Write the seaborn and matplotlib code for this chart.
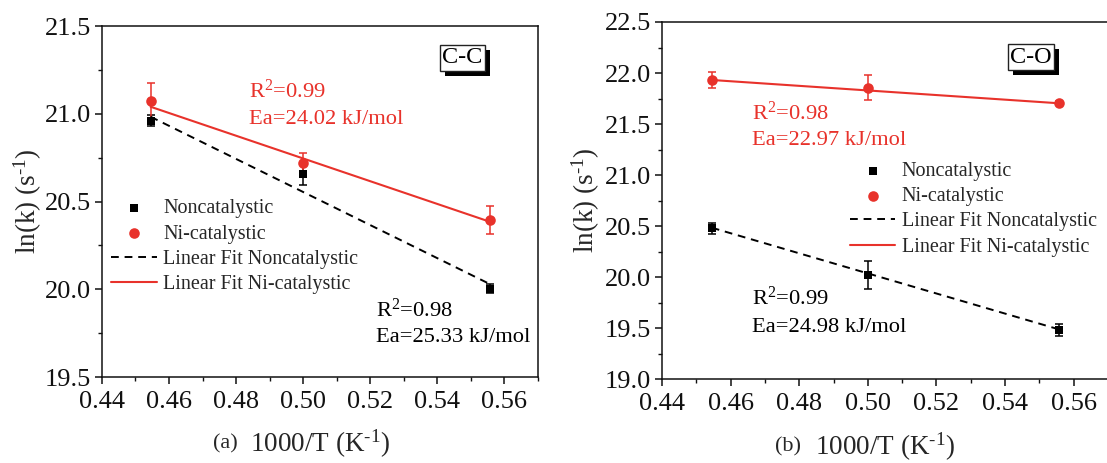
import numpy as np
import pandas as pd
import matplotlib
matplotlib.use("Agg")
import matplotlib.pyplot as plt
import seaborn as sns
from matplotlib.ticker import MultipleLocator, FormatStrFormatter
from matplotlib.patches import Rectangle

# ---------------- data ----------------
inv_T = [0.4545, 0.5000, 0.5556]          # 1000/T (K^-1)

# (a) C-C
cc_noncat = [20.960, 20.657, 20.003]
cc_noncat_err = [0.032, 0.065, 0.027]
cc_nicat = [21.074, 20.718, 20.395]
cc_nicat_err = [0.103, 0.061, 0.078]
fit_x = [0.4545, 0.5556]
cc_fit_noncat = [20.983, 20.030]
cc_fit_nicat = [21.040, 20.385]

# (b) C-O
co_noncat = [20.480, 20.022, 19.483]
co_noncat_err = [0.052, 0.134, 0.059]
co_nicat = [21.934, 21.857, 21.704]
co_nicat_err = [0.077, 0.119, 0.022]
co_fit_noncat = [20.485, 19.490]
co_fit_nicat = [21.932, 21.704]

series_labels = ["Noncatalystic", "Ni-catalystic",
                 "Linear Fit Noncatalystic", "Linear Fit Ni-catalystic"]

cc_notes = [("R$^{2}$=0.99", "Ea=24.02 kJ/mol"), ("R$^{2}$=0.98", "Ea=25.33 kJ/mol")]
co_notes = [("R$^{2}$=0.98", "Ea=22.97 kJ/mol"), ("R$^{2}$=0.99", "Ea=24.98 kJ/mol")]

RED = "#E8322B"
BLACK = "#000000"

sns.set_theme(style="ticks")
plt.rcParams["font.family"] = ["Liberation Serif", "DejaVu Serif"]
plt.rcParams["mathtext.fontset"] = "custom"
plt.rcParams["mathtext.rm"] = "Liberation Serif"
plt.rcParams["mathtext.it"] = "Liberation Serif:italic"
plt.rcParams["mathtext.bf"] = "Liberation Serif:bold"
plt.rcParams["axes.linewidth"] = 1.1
plt.rcParams["axes.edgecolor"] = "#111111"

fig = plt.figure(figsize=(11.07, 4.63), dpi=100)
axL = fig.add_axes([0.0921, 0.1857, 0.3939, 0.7581])
axR = fig.add_axes([0.5980, 0.1808, 0.4029, 0.7717])

tags = []


def draw_panel(ax, noncat, noncat_err, nicat, nicat_err, fit_non, fit_ni,
               ylim, tag, letter, notes, note_pos, leg_anchor):
    # error bars
    ax.errorbar(inv_T, noncat, yerr=noncat_err, fmt="none", ecolor=BLACK,
                elinewidth=1.1, capsize=3, capthick=1.1, zorder=2)
    ax.errorbar(inv_T, nicat, yerr=nicat_err, fmt="none", ecolor=RED,
                elinewidth=1.1, capsize=3, capthick=1.1, zorder=2)
    # fit lines
    sns.lineplot(x=fit_x, y=fit_non, ax=ax, color=BLACK, lw=1.4,
                 linestyle=(0, (4, 3)), zorder=2)
    h_fit_non = ax.lines[-1]
    sns.lineplot(x=fit_x, y=fit_ni, ax=ax, color=RED, lw=1.5, zorder=2)
    h_fit_ni = ax.lines[-1]
    # markers
    sns.scatterplot(x=inv_T, y=noncat, ax=ax, marker="s", s=40, color=BLACK,
                    linewidth=0, zorder=3)
    h_non = ax.collections[-1]
    sns.scatterplot(x=inv_T, y=nicat, ax=ax, marker="o", s=58, color=RED,
                    linewidth=0, zorder=3)
    h_ni = ax.collections[-1]

    ax.set_xlim(0.44, 0.57)
    ax.set_ylim(*ylim)
    ax.xaxis.set_major_locator(MultipleLocator(0.02))
    ax.xaxis.set_minor_locator(MultipleLocator(0.01))
    ax.yaxis.set_major_locator(MultipleLocator(0.5))
    ax.yaxis.set_minor_locator(MultipleLocator(0.25))
    ax.xaxis.set_major_formatter(FormatStrFormatter("%.2f"))
    ax.yaxis.set_major_formatter(FormatStrFormatter("%.1f"))
    ax.tick_params(axis="both", which="major", direction="out", length=5,
                   width=1.1, labelsize=19, colors="#111111")
    ax.tick_params(axis="x", which="major", pad=5)
    ax.tick_params(axis="y", which="major", pad=3)
    ax.tick_params(axis="both", which="minor", direction="out", length=3,
                   width=1.0, colors="#111111")
    for s in ax.spines.values():
        s.set_visible(True)

    ax.set_xlabel(r"1000/T (K$^{\text{-}1}$)", fontsize=19.5)
    ax.xaxis.set_label_coords(0.5, -0.19)
    ax.xaxis.label.set_verticalalignment("center")
    ax.text(0.283, -0.19, letter, transform=ax.transAxes, fontsize=16,
            ha="center", va="center")
    ax.set_ylabel(r"ln(k) (s$^{\text{-}1}$)", fontsize=19.5)
    ax.yaxis.set_label_coords(-0.17, 0.5)
    ax.yaxis.label.set_verticalalignment("center")

    # notes
    (rx, ry1, ry2), (bx, by1, by2) = note_pos
    ax.text(rx, ry1, notes[0][0], color=RED, fontsize=16.2, ha="left", va="center")
    ax.text(rx, ry2, notes[0][1], color=RED, fontsize=16.2, ha="left", va="center")
    ax.text(bx, by1, notes[1][0], color=BLACK, fontsize=16.2, ha="left", va="center")
    ax.text(bx, by2, notes[1][1], color=BLACK, fontsize=16.2, ha="left", va="center")

    # tag box (shadow added after layout)
    tx, ty = tag[1]
    t = ax.text(tx, ty, tag[0], transform=ax.transAxes, ha="center",
                va="center", fontsize=17.5, color=BLACK,
                bbox=dict(boxstyle="square,pad=0.1", fc="white", ec="#222222", lw=1),
                zorder=6)
    tags.append((ax, t))

    ax.legend([h_non, h_ni, h_fit_non, h_fit_ni], series_labels,
              loc="upper left", bbox_to_anchor=leg_anchor, frameon=False,
              fontsize=14.5, borderpad=0, borderaxespad=0,
              handlelength=2.27, handletextpad=0.32, labelspacing=0.31,
              scatterpoints=1)


draw_panel(axL, cc_noncat, cc_noncat_err, cc_nicat, cc_nicat_err,
           cc_fit_noncat, cc_fit_nicat, (19.5, 21.5), ("C-C", (0.826, 0.91)),
           "(a)", cc_notes,
           ((0.4839, 21.13, 20.97), (0.5217, 19.883, 19.728)),
           (0.0204, 0.507))

draw_panel(axR, co_noncat, co_noncat_err, co_nicat, co_nicat_err,
           co_fit_noncat, co_fit_nicat, (19.0, 22.5), ("C-O", (0.827, 0.902)),
           "(b)", co_notes,
           ((0.4662, 21.61, 21.34), (0.4662, 19.79, 19.51)),
           (0.421, 0.609))

# drop shadows behind the tag boxes (in axes-fraction coordinates)
fig.canvas.draw()
renderer = fig.canvas.get_renderer()
for ax, t in tags:
    bb = t.get_bbox_patch().get_window_extent(renderer)
    inv = ax.transAxes.inverted()
    (x0, y0), (x1, y1) = inv.transform([(bb.x0 + 5, bb.y0 - 5),
                                        (bb.x1 + 5, bb.y1 - 5)])
    shadow = Rectangle((x0, y0), x1 - x0, y1 - y0, transform=ax.transAxes,
                       fc="black", ec="none", zorder=5, clip_on=False)
    ax.add_patch(shadow)

fig.savefig("out.png", dpi=100)
